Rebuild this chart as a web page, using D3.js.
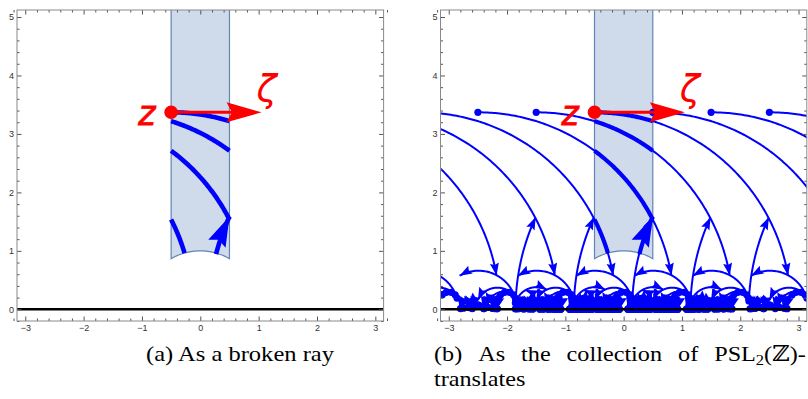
<!DOCTYPE html>
<html>
<head>
<meta charset="utf-8">
<script src="https://cdn.jsdelivr.net/npm/d3@7"></script>
<style>
  body { margin: 0; background: #fff; }
  svg { display: block; }
</style>
</head>
<body>
<svg id="fig" width="808" height="399"></svg>
<script>
// ---- values ----
const xTicks = [-3, -2, -1, 0, 1, 2, 3];
const yTicks = [0, 1, 2, 3, 4, 5];
const xDomain = [-Math.PI, Math.PI];
const yDomain = [-0.2, 5.12];

// start point z and the tip of the direction arrow zeta
const zPoint = [-0.5, 3.37];
const zetaTip = [1.05, 3.37];

// the broken ray inside the strip: geodesic arcs (center on the real axis, radius, x from -> x to)
const segCenter = [-0.5, -1.5, -2.5, -3.5, 3.92];
const segRadius = [3.37, 3.37, 3.37, 3.37, 3.77];
const segFrom   = [-0.5, -0.5, -0.5, -0.5, 0.27];
const segTo     = [0.5, 0.5, 0.5, -0.27, 0.5];

// the same ray unfolded in the upper half plane: one geodesic from z to its end point
const rayCenter = -0.5;
const rayRadius = 3.37;
const rayEndX = 2.82;

// strip |Re z| <= 1/2 above the unit circle
const stripEdges = [-0.5, 0.5];

// PSL2(Z) translates [[a, b], [c, d]]: largest |a|, |b|, |c|, |d| used
const entryBounds = [14, 7, 14, 7];

const blue = "#0000ff", red = "#ff0000";

const svg = d3.select("#fig");

const panels = [
  {left: 17, right: 383.6, top: 10, bottom: 321, translates: false, thick: 4.6},
  {left: 440.5, right: 806.8, top: 10, bottom: 321, translates: true, thick: 4.2}
];

function mobius(g, p) {
  const [a, b, c, d] = g;
  const nr = a * p[0] + b, ni = a * p[1];
  const dr = c * p[0] + d, di = c * p[1];
  const m = dr * dr + di * di;
  return [(nr * dr + ni * di) / m, (ni * dr - nr * di) / m];
}

function arcByAngle(c, r, t0, t1, n) {
  return d3.range(n + 1).map(i => {
    const t = t0 + (t1 - t0) * i / n;
    return [c + r * Math.cos(t), r * Math.sin(t)];
  });
}

function arcByX(c, r, x0, x1, n) {
  return arcByAngle(c, r, Math.acos((x0 - c) / r), Math.acos((x1 - c) / r), n);
}

function arrowHead(tip, ang, L, W, notch) {
  const ux = Math.cos(ang), uy = Math.sin(ang), nx = -uy, ny = ux;
  const bx = tip[0] - L * ux, by = tip[1] - L * uy;
  return "M" + tip[0].toFixed(2) + "," + tip[1].toFixed(2) +
    "L" + (bx + W / 2 * nx).toFixed(2) + "," + (by + W / 2 * ny).toFixed(2) +
    "L" + (tip[0] - notch * L * ux).toFixed(2) + "," + (tip[1] - notch * L * uy).toFixed(2) +
    "L" + (bx - W / 2 * nx).toFixed(2) + "," + (by - W / 2 * ny).toFixed(2) + "Z";
}

// group elements, one per +-pair
function groupElements(bounds) {
  const [A, B, C, D] = bounds;
  const out = [];
  for (let b = -B; b <= B; b++) out.push([1, b, 0, 1]);
  for (let c = 1; c <= C; c++) {
    for (let a = -A; a <= A; a++) {
      for (let d = -D; d <= D; d++) {
        const num = a * d - 1;
        if (num % c !== 0) continue;
        const b = num / c;
        if (Math.abs(b) > B) continue;
        out.push([a, b, c, d]);
      }
    }
  }
  return out;
}

panels.forEach((p, pi) => {
  const x = d3.scaleLinear().domain(xDomain).range([p.left, p.right]);
  const y = d3.scaleLinear().domain(yDomain).range([p.bottom, p.top]);
  const line = d3.line().x(d => x(d[0])).y(d => y(d[1]));
  const px = d => [x(d[0]), y(d[1])];

  const clipId = "clip" + pi;
  svg.append("clipPath").attr("id", clipId)
    .append("rect")
    .attr("x", p.left).attr("y", p.top)
    .attr("width", p.right - p.left).attr("height", p.bottom - p.top);

  const g = svg.append("g").attr("clip-path", "url(#" + clipId + ")");

  // fundamental strip
  const bottomArc = arcByAngle(0, 1, Math.acos(stripEdges[0]), Math.acos(stripEdges[1]), 40);
  const stripPts = [[stripEdges[0], 6]].concat(bottomArc, [[stripEdges[1], 6]]);
  g.append("path")
    .attr("d", line(stripPts) + "Z")
    .attr("fill", "#cfdaea")
    .attr("stroke", "#5f84b6")
    .attr("stroke-width", 1.2);

  // thin translates of the whole ray
  if (p.translates) {
    const t0 = Math.PI / 2;
    const t1 = Math.acos((rayEndX - rayCenter) / rayRadius);
    const rayFine = arcByAngle(rayCenter, rayRadius, t0, t1, 140);
    const rayCoarse = arcByAngle(rayCenter, rayRadius, t0, t1, 24);
    const nearEnd = [rayCenter + rayRadius * Math.cos(t1 + 1e-4), rayRadius * Math.sin(t1 + 1e-4)];
    const lines = [], heads = [], dots = [];
    groupElements(entryBounds).forEach(m => {
      const small = m[2] > 7;
      const img = (small ? rayCoarse : rayFine).map(q => px(mobius(m, q)));
      const xs = img.map(q => q[0]), ys = img.map(q => q[1]);
      if (d3.max(xs) < p.left - 15 || d3.min(xs) > p.right + 15 ||
          d3.max(ys) < p.top - 15 || d3.min(ys) > p.bottom + 15) return;
      lines.push("M" + img.map(q => q[0].toFixed(2) + "," + q[1].toFixed(2)).join("L"));
      const tip = img[img.length - 1];
      const pre = px(mobius(m, nearEnd));
      heads.push(arrowHead(tip, Math.atan2(tip[1] - pre[1], tip[0] - pre[0]), 12.5, 9, 0.85));
      dots.push(img[0]);
    });
    g.append("path")
      .attr("d", lines.join(""))
      .attr("fill", "none")
      .attr("stroke", blue)
      .attr("stroke-width", 2);
    g.append("path")
      .attr("d", heads.join(""))
      .attr("fill", blue);
    g.append("g").selectAll("circle")
      .data(dots)
      .join("circle")
      .attr("cx", d => d[0]).attr("cy", d => d[1]).attr("r", 3.6)
      .attr("fill", blue);
  }

  // thick broken ray segments
  segCenter.forEach((c, i) => {
    const pts = arcByX(c, segRadius[i], segFrom[i], segTo[i], 60);
    g.append("path")
      .attr("d", line(pts))
      .attr("fill", "none")
      .attr("stroke", blue)
      .attr("stroke-width", p.thick)
      .attr("stroke-linecap", "butt");
    if (i === segCenter.length - 1) {
      const a = px(pts[pts.length - 2]), b = px(pts[pts.length - 1]);
      g.append("path")
        .attr("d", arrowHead(b, Math.atan2(b[1] - a[1], b[0] - a[0]), 30, 19, 0.85))
        .attr("fill", blue);
    }
  });

  // z and zeta
  const zp = px(zPoint), tp = px(zetaTip);
  const redL = 35;
  g.append("line")
    .attr("x1", zp[0]).attr("y1", zp[1])
    .attr("x2", tp[0] - 0.8 * redL).attr("y2", tp[1])
    .attr("stroke", red).attr("stroke-width", 3);
  g.append("path")
    .attr("d", arrowHead(tp, 0, redL, 20, 0.85))
    .attr("fill", red);
  g.append("circle")
    .attr("cx", zp[0]).attr("cy", zp[1]).attr("r", 6.8)
    .attr("fill", red);

  // real axis
  g.append("line")
    .attr("x1", p.left).attr("x2", p.right)
    .attr("y1", y(0)).attr("y2", y(0))
    .attr("stroke", "#000").attr("stroke-width", 2.6);

  svg.append("text")
    .attr("x", zp[0] - 33).attr("y", zp[1] + 13)
    .attr("font-family", "'DejaVu Sans', sans-serif")
    .attr("font-style", "italic")
    .attr("font-size", 33)
    .attr("fill", red)
    .attr("stroke", red).attr("stroke-width", 0.8)
    .text("z");
  svg.append("text")
    .attr("x", tp[0] - 5).attr("y", zp[1] - 11)
    .attr("font-family", "'DejaVu Sans', sans-serif")
    .attr("font-style", "italic")
    .attr("font-size", 37)
    .attr("fill", red)
    .text("ζ");

  // frame and ticks
  const minorX = d3.range(-32, 33, 2).map(v => v / 10).filter(v => Math.abs(v - Math.round(v)) > 1e-6);
  const minorY = d3.range(-2, 52, 2).map(v => v / 10).filter(v => Math.abs(v - Math.round(v)) > 1e-6);
  const fmt = d3.format("d");
  const tickFont = "'Liberation Sans', Arial, sans-serif";

  const axes = [
    [d3.axisBottom(x).tickValues(xTicks).tickSize(-4.5).tickPadding(4).tickFormat(fmt), [0, p.bottom]],
    [d3.axisBottom(x).tickValues(minorX).tickSize(-2.5).tickFormat(""), [0, p.bottom]],
    [d3.axisTop(x).tickValues(xTicks).tickSize(-4.5).tickFormat(""), [0, p.top]],
    [d3.axisTop(x).tickValues(minorX).tickSize(-2.5).tickFormat(""), [0, p.top]],
    [d3.axisLeft(y).tickValues(yTicks).tickSize(-4.5).tickPadding(3).tickFormat(fmt), [p.left, 0]],
    [d3.axisLeft(y).tickValues(minorY).tickSize(-2.5).tickFormat(""), [p.left, 0]],
    [d3.axisRight(y).tickValues(yTicks).tickSize(-4.5).tickFormat(""), [p.right, 0]],
    [d3.axisRight(y).tickValues(minorY).tickSize(-2.5).tickFormat(""), [p.right, 0]]
  ];
  axes.forEach(([ax, tr]) => {
    const a = svg.append("g")
      .attr("transform", "translate(" + tr[0] + "," + tr[1] + ")")
      .call(ax);
    a.select(".domain").remove();
    a.selectAll("line").attr("stroke", "#555").attr("stroke-width", 1);
    a.selectAll("text")
      .attr("font-family", tickFont)
      .attr("font-size", 9)
      .attr("fill", "#333");
  });

  svg.append("rect")
    .attr("x", p.left).attr("y", p.top)
    .attr("width", p.right - p.left).attr("height", p.bottom - p.top)
    .attr("fill", "none")
    .attr("stroke", "#8a8a8a")
    .attr("stroke-width", 1);
});

// ---- captions ----
const capFont = "'Liberation Serif', 'DejaVu Serif', serif";
const capSize = 22;
const stretch = 1.1;
const line1Base = 361, line2Base = 386;

svg.append("text")
  .attr("x", 146).attr("y", line1Base)
  .attr("font-family", capFont).attr("font-size", capSize)
  .attr("textLength", 188).attr("lengthAdjust", "spacingAndGlyphs")
  .text("(a) As a broken ray");

const line1Words = ["(b)", "As", "the", "collection", "of"];
const line1Left = 434, line1Right = 806;
const wordNodes = line1Words.map(w => {
  const t = svg.append("text")
    .attr("y", line1Base)
    .attr("font-family", capFont).attr("font-size", capSize)
    .text(w);
  const wLen = t.node().getComputedTextLength() * stretch;
  t.attr("textLength", wLen).attr("lengthAdjust", "spacingAndGlyphs");
  return {t: t, w: wLen, scaled: false};
});

const pslG = svg.append("g");
const pslT = pslG.append("text")
  .attr("font-family", capFont).attr("font-size", capSize);
pslT.append("tspan").text("PSL");
pslT.append("tspan").attr("font-size", 15).attr("dy", 4).text("2");
pslT.append("tspan").attr("dy", -4).text("(ℤ)-");
const pslW = pslT.node().getBBox().width * stretch;
wordNodes.push({t: pslG, w: pslW, scaled: true});

const totalW = d3.sum(wordNodes, d => d.w);
const gap = (line1Right - line1Left - totalW) / (wordNodes.length - 1);
let cx = line1Left;
wordNodes.forEach(d => {
  if (d.scaled) {
    d.t.attr("transform", "translate(" + cx + "," + line1Base + ") scale(" + stretch + ",1)");
  } else {
    d.t.attr("x", cx);
  }
  cx += d.w + gap;
});

const tr = svg.append("text")
  .attr("x", 434).attr("y", line2Base)
  .attr("font-family", capFont).attr("font-size", capSize)
  .text("translates");
tr.attr("textLength", tr.node().getComputedTextLength() * stretch)
  .attr("lengthAdjust", "spacingAndGlyphs");
</script>
</body>
</html>
